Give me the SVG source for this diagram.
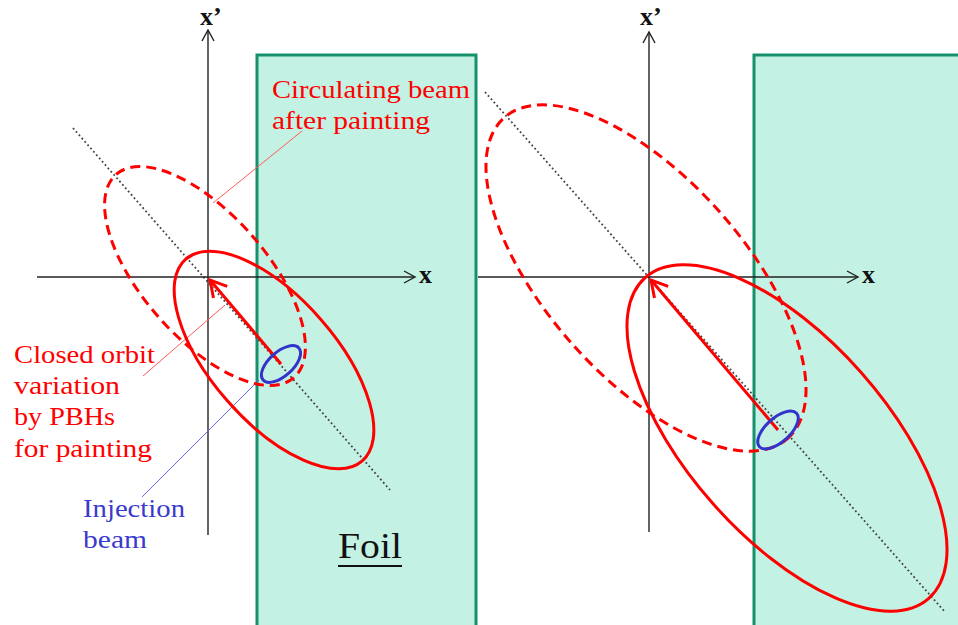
<svg xmlns="http://www.w3.org/2000/svg" width="958" height="625" viewBox="0 0 958 625">
<style>
.foil{fill:#c3f1e3;stroke:#17906c;stroke-width:3}
.axis{stroke:#222;stroke-width:1.4;fill:none}
.dot{stroke:#444;stroke-width:1.8;stroke-dasharray:1.8 2.6;fill:none}
.circ{stroke:#ff0000;stroke-width:3;fill:none}
.dash{stroke:#ff0000;stroke-width:3;fill:none;stroke-dasharray:10 6}
.inj{stroke:#3333cc;stroke-width:3;fill:none}
.arr{stroke:#ff0000;stroke-width:3;fill:none}
.lead{stroke:#ff5a5a;stroke-width:1;fill:none}
.leadb{stroke:#6a6ae0;stroke-width:1;fill:none}
.lbl{font-family:"Liberation Serif","DejaVu Serif",serif;font-size:25px;fill:#ff0000}
.lblb{font-family:"Liberation Serif","DejaVu Serif",serif;font-size:25px;fill:#3a3acc}
.ax{font-family:"Liberation Serif","DejaVu Serif",serif;font-size:26px;font-weight:bold;fill:#111}
</style>
<defs>
<marker id="ah" markerWidth="14" markerHeight="14" refX="12" refY="7" orient="auto" markerUnits="userSpaceOnUse">
<path d="M1,1 L12,7 L1,13" fill="none" stroke="#222" stroke-width="1.4"/>
</marker>
<marker id="rh" markerWidth="22" markerHeight="22" refX="18" refY="11" orient="auto" markerUnits="userSpaceOnUse">
<path d="M2,2 L18,11 L2,20" fill="none" stroke="#ff0000" stroke-width="3"/>
</marker>
</defs>

<g id="foil-left"><rect class="foil" x="257" y="55" width="219" height="580"/></g>
<g id="foil-right"><rect class="foil" x="754" y="55" width="220" height="580"/></g>

<g id="connectors">
<line class="dot" x1="73" y1="128" x2="390" y2="490"/>
<line class="dot" x1="485" y1="92" x2="945" y2="612"/>
<line class="axis" x1="208" y1="535" x2="208" y2="30" marker-end="url(#ah)"/>
<line class="axis" x1="37" y1="277" x2="415" y2="277" marker-end="url(#ah)"/>
<line class="axis" x1="649" y1="532" x2="649" y2="32" marker-end="url(#ah)"/>
<line class="axis" x1="478" y1="277" x2="858" y2="277" marker-end="url(#ah)"/>
<line class="lead" x1="302" y1="131" x2="213" y2="203"/>
<line class="lead" x1="143" y1="376" x2="225" y2="305"/>
<line class="leadb" x1="142" y1="497" x2="259" y2="380"/>
<line class="arr" x1="281" y1="364" x2="210" y2="280" marker-end="url(#rh)"/>
<line class="arr" x1="778" y1="430" x2="651" y2="280" marker-end="url(#rh)"/>
</g>

<g id="beam-left-after"><ellipse class="dash" cx="205" cy="276" rx="135" ry="62" transform="rotate(48.8 205 276)"/></g>
<g id="beam-left-start"><ellipse class="circ" cx="274" cy="360" rx="134" ry="62" transform="rotate(48.8 274 360)"/></g>
<g id="inj-left"><ellipse class="inj" cx="281" cy="364" rx="24" ry="12" transform="rotate(-42 281 364)"/></g>

<g id="beam-right-after"><ellipse class="dash" cx="646" cy="278" rx="214" ry="99" transform="rotate(48.5 646 278)"/></g>
<g id="beam-right-start"><ellipse class="circ" cx="787" cy="438" rx="214" ry="99" transform="rotate(48.5 787 438)"/></g>
<g id="inj-right"><ellipse class="inj" cx="778" cy="430" rx="25" ry="12" transform="rotate(-42 778 430)"/></g>

<g id="axis-labels">
<text class="ax" x="200" y="25">x’</text>
<text class="ax" x="419" y="283">x</text>
<text class="ax" x="640" y="25">x’</text>
<text class="ax" x="862" y="283">x</text>
</g>

<g id="label-circulating">
<text class="lbl" x="272" y="98" textLength="198" lengthAdjust="spacingAndGlyphs">Circulating beam</text>
<text class="lbl" x="272" y="129" textLength="158" lengthAdjust="spacingAndGlyphs">after painting</text>
</g>
<g id="label-closed-orbit">
<text class="lbl" x="14" y="363" textLength="141" lengthAdjust="spacingAndGlyphs">Closed orbit</text>
<text class="lbl" x="14" y="394" textLength="106" lengthAdjust="spacingAndGlyphs">variation</text>
<text class="lbl" x="14" y="425" textLength="101" lengthAdjust="spacingAndGlyphs">by PBHs</text>
<text class="lbl" x="14" y="457" textLength="138" lengthAdjust="spacingAndGlyphs">for painting</text>
</g>
<g id="label-injection">
<text class="lblb" x="83" y="517" textLength="102" lengthAdjust="spacingAndGlyphs">Injection</text>
<text class="lblb" x="83" y="548" textLength="64" lengthAdjust="spacingAndGlyphs">beam</text>
</g>
<g id="label-foil">
<text x="338" y="558" font-family="'Liberation Serif','DejaVu Serif',serif" font-size="36" fill="#111" textLength="64" lengthAdjust="spacingAndGlyphs">Foil</text>
<line x1="338" y1="566" x2="402" y2="566" stroke="#111" stroke-width="2"/>
</g>
</svg>
